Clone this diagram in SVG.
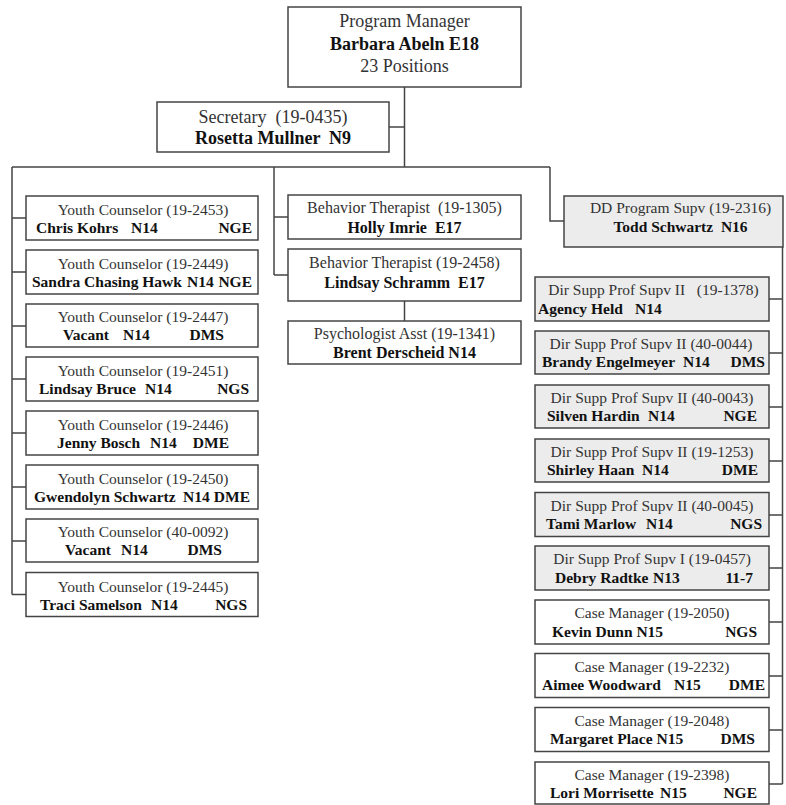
<svg xmlns="http://www.w3.org/2000/svg" width="786" height="805" viewBox="0 0 786 805">
<style>
.bx{fill:#fff;stroke:#444;stroke-width:1.5}
.g{fill:#ececec}
.cn{fill:none;stroke:#444;stroke-width:1.5}
text{font-family:"Liberation Serif","Times New Roman",serif;white-space:pre}
.r{font-size:15.5px;fill:#333}
.b{font-size:15.5px;font-weight:bold;fill:#111}
.m{font-size:16px}
.L{font-size:18px}
.c{text-anchor:middle}
.e{text-anchor:end}
</style>
<rect width="786" height="805" fill="#fff"/>
<g id="connectors" class="cn">
<path d="M404.5 87V167M389 127H404.5M12 167H550M12 167V594.5M274 167V275M274 217H288M274 275H288M404.5 301V321M550 167V221H564M782.5 247V784"/>
<path d="M12 218H26M12 272H26M12 326H26M12 379H26M12 433H26M12 487H26M12 541H26M12 594.5H26"/>
<path d="M769 299H782.5M769 353H782.5M769 407H782.5M769 461H782.5M769 515H782.5M769 568H782.5M769 622H782.5M769 676H782.5M769 730H782.5M769 784H782.5"/>
</g>
<g id="pm"><rect class="bx" x="288" y="7" width="233" height="80"/>
<text class="r L c" x="404.5" y="27">Program Manager</text>
<text class="b L c" x="404.5" y="49.5">Barbara Abeln E18</text>
<text class="r L c" x="404.5" y="72">23 Positions</text></g>
<g id="sec"><rect class="bx" x="157" y="102" width="232" height="50"/>
<text class="r L c" x="273" y="123">Secretary  (19-0435)</text>
<text class="b L c" x="273" y="144">Rosetta Mullner  N9</text></g>

<g id="yc1"><rect class="bx" x="26" y="196" width="232" height="44"/>
<text class="r c" x="143" y="215">Youth Counselor (19-2453)</text>
<text class="b" x="36" y="233">Chris Kohrs</text><text class="b" x="131" y="233">N14</text><text class="b e" x="252" y="233">NGE</text></g>
<g id="yc2"><rect class="bx" x="26" y="250" width="232" height="44"/>
<text class="r c" x="143" y="269">Youth Counselor (19-2449)</text>
<text class="b" x="32" y="287">Sandra Chasing Hawk</text><text class="b" x="187" y="287">N14</text><text class="b e" x="252" y="287">NGE</text></g>
<g id="yc3"><rect class="bx" x="26" y="304" width="232" height="43"/>
<text class="r c" x="143" y="322">Youth Counselor (19-2447)</text>
<text class="b" x="63" y="340">Vacant</text><text class="b" x="123" y="340">N14</text><text class="b e" x="224" y="340">DMS</text></g>
<g id="yc4"><rect class="bx" x="26" y="357" width="232" height="44"/>
<text class="r c" x="143" y="376">Youth Counselor (19-2451)</text>
<text class="b" x="39" y="394">Lindsay Bruce</text><text class="b" x="145" y="394">N14</text><text class="b e" x="249" y="394">NGS</text></g>
<g id="yc5"><rect class="bx" x="26" y="411" width="232" height="44"/>
<text class="r c" x="143" y="430">Youth Counselor (19-2446)</text>
<text class="b" x="57" y="448">Jenny Bosch</text><text class="b" x="150" y="448">N14</text><text class="b e" x="229" y="448">DME</text></g>
<g id="yc6"><rect class="bx" x="26" y="465" width="232" height="44"/>
<text class="r c" x="143" y="484">Youth Counselor (19-2450)</text>
<text class="b" x="34" y="502">Gwendolyn Schwartz</text><text class="b" x="183" y="502">N14</text><text class="b e" x="250" y="502">DME</text></g>
<g id="yc7"><rect class="bx" x="26" y="519" width="232" height="43"/>
<text class="r c" x="143" y="537">Youth Counselor (40-0092)</text>
<text class="b" x="65" y="555">Vacant</text><text class="b" x="121" y="555">N14</text><text class="b e" x="222" y="555">DMS</text></g>
<g id="yc8"><rect class="bx" x="26" y="572.5" width="232" height="44"/>
<text class="r c" x="143" y="591.5">Youth Counselor (19-2445)</text>
<text class="b" x="40" y="610">Traci Samelson</text><text class="b" x="151" y="610">N14</text><text class="b e" x="247" y="610">NGS</text></g>

<g id="bt1"><rect class="bx" x="288" y="195" width="233" height="44"/>
<text class="r m c" x="404.5" y="213">Behavior Therapist  (19-1305)</text>
<text class="b m c" x="404.5" y="233">Holly Imrie  E17</text></g>
<g id="bt2"><rect class="bx" x="288" y="249" width="233" height="52"/>
<text class="r m c" x="404.5" y="268">Behavior Therapist (19-2458)</text>
<text class="b m c" x="404.5" y="288">Lindsay Schramm  E17</text></g>
<g id="pa"><rect class="bx" x="288" y="321" width="233" height="43"/>
<text class="r m c" x="404.5" y="339">Psychologist Asst (19-1341)</text>
<text class="b m c" x="404.5" y="358">Brent Derscheid N14</text></g>

<g id="dd"><rect class="bx g" x="564" y="196" width="219" height="51"/>
<text class="r c" x="680.5" y="213">DD Program Supv (19-2316)</text>
<text class="b c" x="680.5" y="232">Todd Schwartz  N16</text></g>

<g id="ds1"><rect class="bx g" x="535" y="277" width="234" height="44"/>
<text class="r c" x="653.5" y="295">Dir Supp Prof Supv II   (19-1378)</text>
<text class="b" x="538" y="314">Agency Held</text><text class="b" x="635" y="314">N14</text></g>
<g id="ds2"><rect class="bx g" x="535" y="331" width="234" height="43"/>
<text class="r c" x="651" y="349">Dir Supp Prof Supv II (40-0044)</text>
<text class="b" x="542" y="367">Brandy Engelmeyer</text><text class="b" x="683" y="367">N14</text><text class="b e" x="765" y="367">DMS</text></g>
<g id="ds3"><rect class="bx g" x="535" y="385" width="234" height="43"/>
<text class="r c" x="652" y="403">Dir Supp Prof Supv II (40-0043)</text>
<text class="b" x="547" y="421">Silven Hardin</text><text class="b" x="648" y="421">N14</text><text class="b e" x="757" y="421">NGE</text></g>
<g id="ds4"><rect class="bx g" x="535" y="439" width="234" height="43"/>
<text class="r c" x="652" y="457">Dir Supp Prof Supv II (19-1253)</text>
<text class="b" x="547" y="475">Shirley Haan</text><text class="b" x="642" y="475">N14</text><text class="b e" x="758" y="475">DME</text></g>
<g id="ds5"><rect class="bx g" x="535" y="492.5" width="234" height="44"/>
<text class="r c" x="652" y="511">Dir Supp Prof Supv II (40-0045)</text>
<text class="b" x="546" y="529">Tami Marlow</text><text class="b" x="646" y="529">N14</text><text class="b e" x="762" y="529">NGS</text></g>
<g id="ds6"><rect class="bx g" x="535" y="546" width="234" height="44"/>
<text class="r c" x="652" y="564">Dir Supp Prof Supv I (19-0457)</text>
<text class="b" x="555" y="583">Debry Radtke</text><text class="b" x="653" y="583">N13</text><text class="b e" x="753" y="583">11-7</text></g>

<g id="cm1"><rect class="bx" x="535" y="600" width="234" height="44"/>
<text class="r c" x="652" y="618">Case Manager (19-2050)</text>
<text class="b" x="552" y="637">Kevin Dunn N15</text><text class="b e" x="757" y="637">NGS</text></g>
<g id="cm2"><rect class="bx" x="535" y="653.5" width="234" height="44"/>
<text class="r c" x="652" y="672">Case Manager (19-2232)</text>
<text class="b" x="542" y="690">Aimee Woodward</text><text class="b" x="674" y="690">N15</text><text class="b e" x="765" y="690">DME</text></g>
<g id="cm3"><rect class="bx" x="535" y="707.5" width="234" height="44"/>
<text class="r c" x="652" y="726">Case Manager (19-2048)</text>
<text class="b" x="550" y="744">Margaret Place N15</text><text class="b e" x="755" y="744">DMS</text></g>
<g id="cm4"><rect class="bx" x="535" y="762" width="234" height="42"/>
<text class="r c" x="652" y="780">Case Manager (19-2398)</text>
<text class="b" x="550" y="798">Lori Morrisette</text><text class="b" x="660" y="798">N15</text><text class="b e" x="757" y="798">NGE</text></g>
</svg>
